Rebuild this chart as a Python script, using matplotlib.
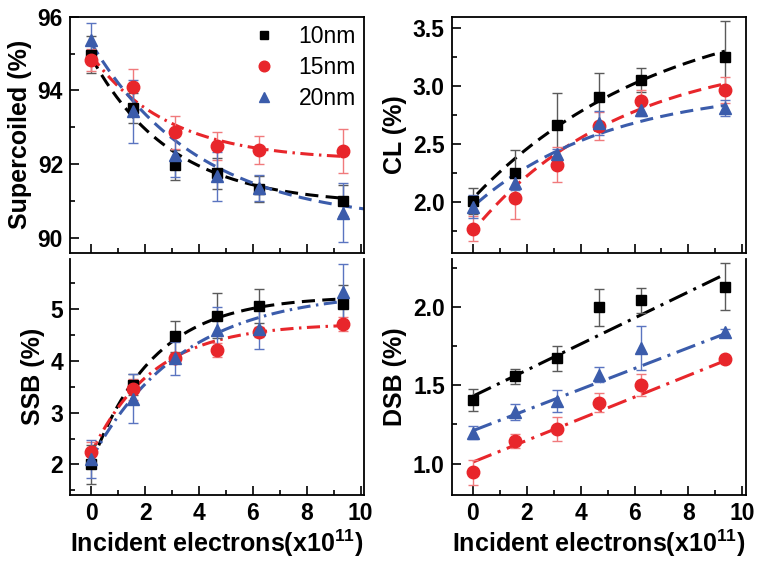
import numpy as np
import matplotlib
matplotlib.use('Agg')
import matplotlib.pyplot as plt
from matplotlib.ticker import MultipleLocator, FormatStrFormatter
from matplotlib.lines import Line2D

plt.rcParams['font.family'] = ['Liberation Sans', 'DejaVu Sans']
plt.rcParams['mathtext.fontset'] = 'custom'
plt.rcParams['mathtext.rm'] = 'Liberation Sans'
plt.rcParams['mathtext.bf'] = 'Liberation Sans:bold'

# incident electrons (x10^11)
x = [0, 1.56, 3.12, 4.68, 6.24, 9.36]
sizes = ['10nm', '15nm', '20nm']

# Supercoiled (%)
sc_10 = [94.97, 93.52, 91.98, 91.76, 91.33, 91.01]
sc_10_err = [0.5, 0.4, 0.4, 0.42, 0.35, 0.42]
sc_15 = [94.83, 94.09, 92.86, 92.48, 92.39, 92.36]
sc_15_err = [0.3, 0.5, 0.45, 0.38, 0.38, 0.6]
sc_20 = [95.37, 93.43, 92.26, 91.67, 91.35, 90.68]
sc_20_err = [0.47, 0.85, 0.6, 0.67, 0.35, 0.8]

# CL (%)
cl_10 = [2.01, 2.245, 2.66, 2.90, 3.05, 3.25]
cl_10_err = [0.11, 0.2, 0.28, 0.21, 0.1, 0.31]
cl_15 = [1.77, 2.03, 2.32, 2.65, 2.865, 2.965]
cl_15_err = [0.105, 0.18, 0.15, 0.12, 0.1, 0.11]
cl_20 = [1.96, 2.165, 2.41, 2.68, 2.79, 2.81]
cl_20_err = [0.1, 0.06, 0.05, 0.1, 0.05, 0.07]

# SSB (%)
ssb_10 = [2.0, 3.54, 4.47, 4.87, 5.06, 5.10]
ssb_10_err = [0.38, 0.2, 0.3, 0.43, 0.33, 0.36]
ssb_15 = [2.24, 3.45, 4.05, 4.21, 4.56, 4.71]
ssb_15_err = [0.2, 0.2, 0.1, 0.13, 0.1, 0.14]
ssb_20 = [2.1, 3.27, 4.05, 4.59, 4.61, 5.32]
ssb_20_err = [0.37, 0.48, 0.32, 0.45, 0.38, 0.55]

# DSB (%)
dsb_10 = [1.405, 1.556, 1.672, 1.996, 2.04, 2.127]
dsb_10_err = [0.07, 0.05, 0.08, 0.12, 0.08, 0.15]
dsb_15 = [0.945, 1.142, 1.222, 1.387, 1.499, 1.666]
dsb_15_err = [0.08, 0.045, 0.075, 0.06, 0.07, 0.02]
dsb_20 = [1.197, 1.328, 1.40, 1.567, 1.736, 1.84]
dsb_20_err = [0.04, 0.05, 0.07, 0.05, 0.14, 0.02]

# fitted curves: y0 + a*exp(-x/t)
fit_sc = [(90.9, 4.0, 3.0), (92.1, 2.85, 2.87), (90.4, 4.88, 4.0)]
fit_cl = [(3.75, -1.72, 7.0), (3.3, -1.55, 5.5), (2.99, -1.03, 5.0)]
fit_ssb = [(5.25, -3.25, 2.3), (4.72, -2.5, 2.3), (5.35, -3.25, 3.38)]
# linear fits: intercept, slope
fit_dsb = [(1.43, 0.083), (1.01, 0.069), (1.21, 0.066)]

colors = ['black', '#e8262b', '#3b5cab']
ecolors = ['#5a5a5a', '#f07a7c', '#5a74c0']
markers = ['s', 'o', '^']
msizes = [7.5, 9, 9]

fig = plt.figure(figsize=(7.62, 5.69), dpi=100)
ax_sc = fig.add_axes([0.0919, 0.5559, 0.3858, 0.4148])
ax_cl = fig.add_axes([0.5928, 0.5559, 0.3858, 0.4148])
ax_ssb = fig.add_axes([0.0919, 0.1301, 0.3858, 0.4152])
ax_dsb = fig.add_axes([0.5928, 0.1301, 0.3858, 0.4152])

dash = (0, (4.3, 2.4))
dashdot = (0, (4.3, 1.8, 0.8, 1.8))
dashdot_long = (0, (6.5, 2.2, 1.0, 2.2))


def draw(ax, ys, errs, fits, styles, kind, xstart=(0, 0, 0), xend=(9.36, 9.36, 9.36)):
    for i in range(3):
        xf = np.linspace(xstart[i], xend[i], 200)
        if kind == 'exp':
            y0, a, t = fits[i]
            yf = y0 + a * np.exp(-xf / t)
        else:
            b0, b1 = fits[i]
            yf = b0 + b1 * xf
        ax.plot(xf, yf, color=colors[i], lw=2.2, ls=styles[i], zorder=2)
    for i in range(3):
        ax.errorbar(x, ys[i], yerr=errs[i], fmt=markers[i], color=colors[i],
                    ms=msizes[i], mec=colors[i], ecolor=ecolors[i], elinewidth=1,
                    capsize=3.5, capthick=1, zorder=3)


draw(ax_sc, [sc_10, sc_15, sc_20], [sc_10_err, sc_15_err, sc_20_err], fit_sc,
     [dash, dashdot, dash], 'exp', xend=(9.36, 9.36, 10.2))
draw(ax_cl, [cl_10, cl_15, cl_20], [cl_10_err, cl_15_err, cl_20_err], fit_cl,
     [dash, dash, dash], 'exp', xstart=(0.15, 0.35, 0.15))
draw(ax_ssb, [ssb_10, ssb_15, ssb_20], [ssb_10_err, ssb_15_err, ssb_20_err], fit_ssb,
     [dash, dashdot, dashdot], 'exp')
draw(ax_dsb, [dsb_10, dsb_15, dsb_20], [dsb_10_err, dsb_15_err, dsb_20_err], fit_dsb,
     [dashdot_long, dashdot_long, dashdot_long], 'lin')

ax_sc.set_ylim(89.6, 96)
ax_sc.yaxis.set_major_locator(MultipleLocator(2))
ax_sc.yaxis.set_minor_locator(MultipleLocator(1))
ax_cl.set_ylim(1.563, 3.595)
ax_cl.yaxis.set_major_locator(MultipleLocator(0.5))
ax_cl.yaxis.set_minor_locator(MultipleLocator(0.25))
ax_cl.yaxis.set_major_formatter(FormatStrFormatter('%.1f'))
ax_ssb.set_ylim(1.41, 5.97)
ax_ssb.yaxis.set_major_locator(MultipleLocator(1))
ax_ssb.yaxis.set_minor_locator(MultipleLocator(0.5))
ax_dsb.set_ylim(0.80, 2.306)
ax_dsb.yaxis.set_major_locator(MultipleLocator(0.5))
ax_dsb.yaxis.set_minor_locator(MultipleLocator(0.25))
ax_dsb.yaxis.set_major_formatter(FormatStrFormatter('%.1f'))

for ax in [ax_sc, ax_cl, ax_ssb, ax_dsb]:
    ax.set_xlim(-0.79, 10.13)
    ax.xaxis.set_major_locator(MultipleLocator(2))
    ax.xaxis.set_minor_locator(MultipleLocator(1))
    ax.tick_params(which='both', direction='in', top=False, right=False, width=1.2)
    ax.tick_params(which='major', length=6.5, pad=5, labelsize=16.5)
    ax.tick_params(which='minor', length=3.6)
    for lab in ax.get_xticklabels() + ax.get_yticklabels():
        lab.set_fontweight('bold')
    for s in ax.spines.values():
        s.set_linewidth(1.3)

for ax in [ax_sc, ax_cl]:
    ax.tick_params(axis='x', labelbottom=False)
for ax in [ax_ssb, ax_dsb]:
    ax.spines['top'].set_visible(False)
    ax.set_xlabel(r'Incident electrons(x10$^{\mathbf{11}}$)', fontsize=18,
                  fontweight='bold', labelpad=2)

ax_sc.set_ylabel('Supercoiled (%)', fontsize=18, fontweight='bold', labelpad=4)
ax_cl.set_ylabel('CL (%)', fontsize=18, fontweight='bold', labelpad=4)
ax_ssb.set_ylabel('SSB (%)', fontsize=18, fontweight='bold', labelpad=4)
ax_dsb.set_ylabel('DSB (%)', fontsize=18, fontweight='bold', labelpad=4)

handles = [Line2D([], [], ls='none', marker=markers[i], color=colors[i],
                  ms=msizes[i] * 0.85) for i in range(3)]
ax_sc.legend(handles, sizes, loc='upper right', frameon=False, fontsize=16.5,
             handlelength=1.0, handletextpad=1.0, borderpad=0.1,
             borderaxespad=0.25, labelspacing=0.35)

fig.savefig('out.png', dpi=100)
